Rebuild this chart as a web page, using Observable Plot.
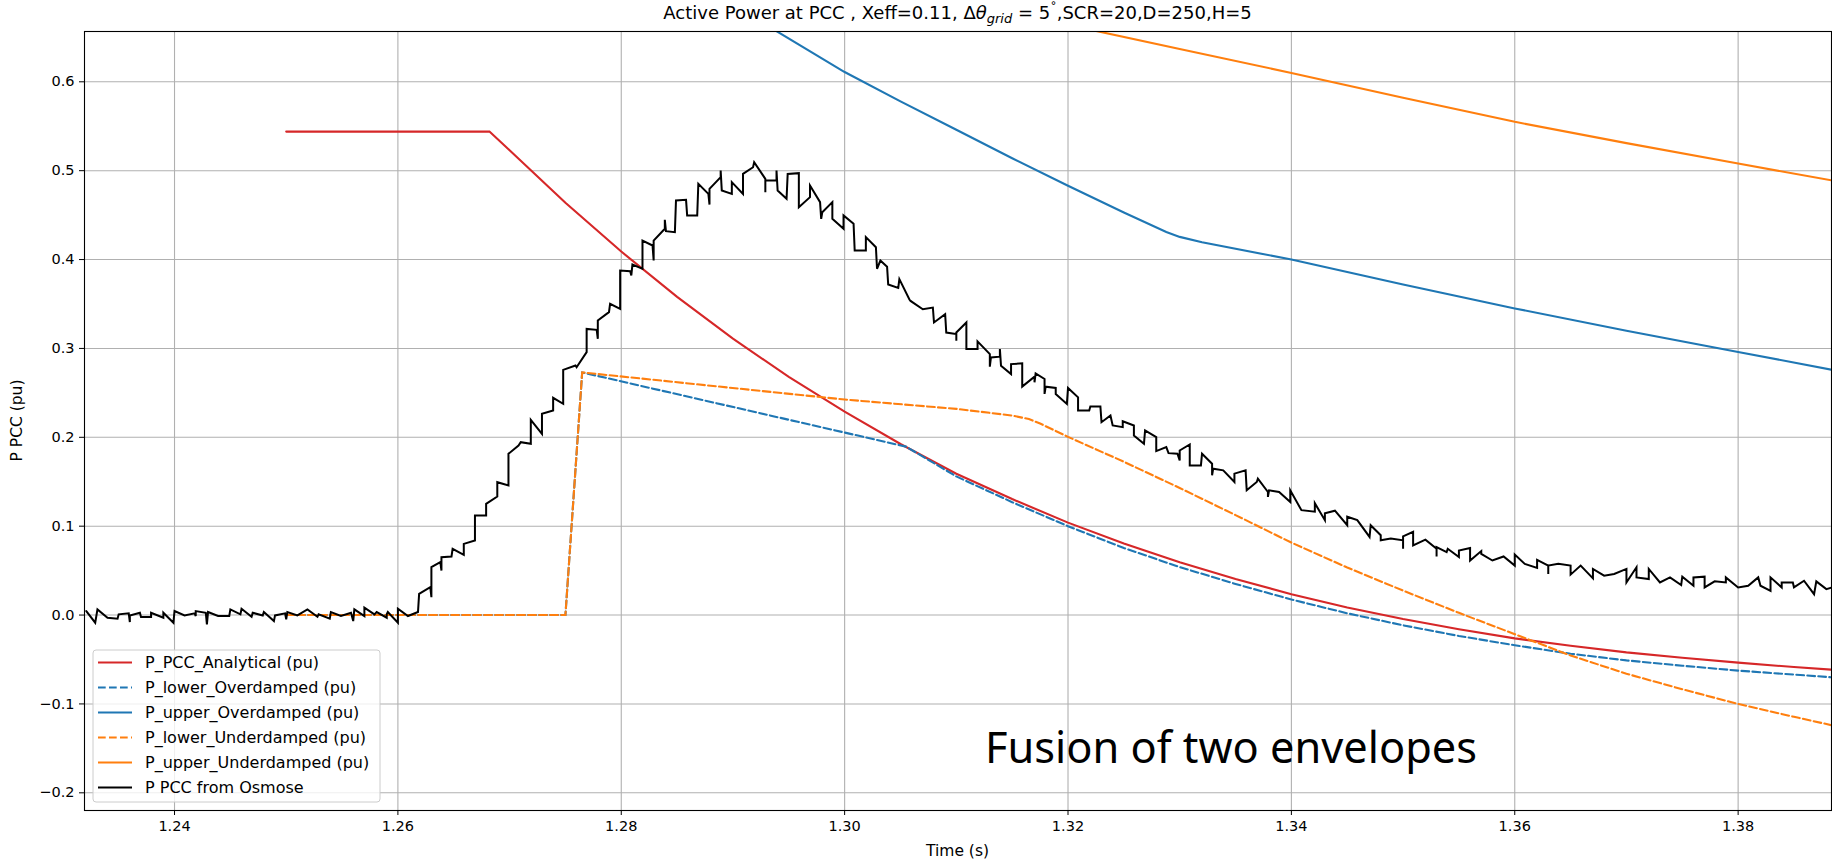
<!DOCTYPE html>
<html>
<head>
<meta charset="utf-8">
<script src="https://cdn.jsdelivr.net/npm/d3@7"></script>
<script src="https://cdn.jsdelivr.net/npm/@observablehq/plot@0.6"></script>
<style>
  html, body { margin: 0; padding: 0; background: #fff; overflow: hidden; }
  #chart { width: 1832px; height: 865px; }
</style>
</head>
<body>
<div id="chart"></div>
<script>
// ---------- data ----------
const xTicks = [1.24, 1.26, 1.28, 1.30, 1.32, 1.34, 1.36, 1.38];
const yTicks = [-0.2, -0.1, 0.0, 0.1, 0.2, 0.3, 0.4, 0.5, 0.6];
const xDomain = [1.23194, 1.38836];
const yDomain = [-0.2199, 0.6566];

const titleParts = ["Active Power at PCC , Xeff=0.11, Δ", "θ", "grid", " = 5", "˚", ",SCR=20,D=250,H=5"];
const xLabel = "Time (s)";
const yLabel = "P PCC (pu)";
const annotation = "Fusion of two envelopes";

const pAnalytical = [
  [1.25,0.544],[1.2682,0.544],[1.270,0.523],[1.275,0.464],[1.280,0.409],[1.285,0.358],[1.290,0.311],
  [1.295,0.268],[1.300,0.229],[1.305,0.1925],[1.310,0.159],[1.315,0.1305],[1.320,0.104],[1.325,0.0805],
  [1.330,0.0595],[1.335,0.0405],[1.340,0.0235],[1.345,0.0085],[1.350,-0.0045],[1.355,-0.016],[1.360,-0.0262],
  [1.365,-0.0345],[1.370,-0.042],[1.375,-0.048],[1.380,-0.0535],[1.385,-0.0585],[1.3884,-0.0615]
];
const pLowerOver = [
  [1.25,0],[1.275,0],[1.2765,0.273],[1.3055,0.1895],[1.310,0.156],[1.315,0.127],[1.320,0.100],[1.325,0.0755],
  [1.330,0.054],[1.335,0.035],[1.340,0.0175],[1.345,0.002],[1.350,-0.0115],[1.355,-0.0235],[1.360,-0.034],
  [1.365,-0.0435],[1.370,-0.051],[1.375,-0.057],[1.380,-0.0625],[1.385,-0.067],[1.3884,-0.070]
];
const pUpperOver = [
  [1.2935,0.66],[1.300,0.611],[1.305,0.578],[1.310,0.546],[1.315,0.514],[1.320,0.483],[1.325,0.453],
  [1.3288,0.431],[1.3300,0.4255],[1.3320,0.4195],[1.340,0.400],[1.350,0.372],[1.360,0.345],[1.370,0.320],
  [1.380,0.296],[1.3884,0.276]
];
const pLowerUnder = [
  [1.25,0],[1.275,0],[1.2765,0.273],[1.300,0.2425],[1.310,0.232],[1.315,0.2245],[1.3165,0.2205],[1.3175,0.2155],
  [1.320,0.2005],[1.325,0.1725],[1.330,0.1430],[1.335,0.1125],[1.340,0.0815],[1.345,0.0535],[1.350,0.0275],
  [1.355,0.0025],[1.360,-0.0215],[1.365,-0.0455],[1.370,-0.066],[1.375,-0.0835],[1.380,-0.100],[1.385,-0.1145],[1.3884,-0.124]
];
const pUpperUnder = [
  [1.320,0.664],[1.330,0.637],[1.340,0.610],[1.350,0.582],[1.360,0.555],[1.370,0.531],[1.380,0.508],[1.3884,0.489]
];
const pOsmose = [
  [1.2321,0.0045],[1.2329,-0.0086],[1.2331,0.0064],[1.2340,-0.0030],[1.2349,-0.0041],[1.2350,0.0008],[1.2359,0.0019],
  [1.2360,-0.0079],[1.2360,-0.0004],[1.2369,0.0026],[1.2370,-0.0023],[1.2379,-0.0023],[1.2379,0.0026],[1.2390,-0.0030],
  [1.2390,0.0026],[1.2399,-0.0086],[1.2400,0.0045],[1.2409,-0.0004],[1.2418,0.0019],[1.2419,-0.0011],[1.2419,0.0045],
  [1.2428,0.0026],[1.2429,-0.0105],[1.2430,0.0034],[1.2439,-0.0011],[1.2449,-0.0011],[1.2450,0.0064],[1.2459,0.0008],
  [1.2460,0.0071],[1.2469,-0.0019],[1.2470,0.0026],[1.2479,-0.0004],[1.2480,0.0034],[1.2489,-0.0068],[1.2490,-0.0004],
  [1.2499,0.0019],[1.2500,-0.0049],[1.2501,0.0034],[1.2510,-0.0004],[1.2519,0.0064],[1.2528,-0.0019],[1.2529,0.0008],
  [1.2539,-0.0041],[1.2540,0.0034],[1.2549,-0.0011],[1.2558,0.0026],[1.2560,-0.0068],[1.2561,0.0064],[1.2570,-0.0011],
  [1.2570,0.0083],[1.2579,0.0008],[1.2581,0.0034],[1.2590,-0.0030],[1.2590,0.0008],[1.2591,0.0034],[1.2600,-0.0086],
  [1.2600,0.0071],[1.2609,-0.0011],[1.2618,0.0034],
  [1.2619,0.0239],[1.2629,0.0314],[1.2630,0.0201],[1.2630,0.0539],[1.2638,0.0595],[1.2639,0.0501],[1.2639,0.0651],
  [1.2648,0.0659],[1.2649,0.0745],[1.2659,0.0678],[1.2659,0.0801],[1.2669,0.0839],[1.2669,0.1120],[1.2679,0.1120],
  [1.2679,0.1251],[1.2689,0.1334],[1.2689,0.1495],[1.2699,0.1458],[1.2699,0.1814],[1.2708,0.1908],[1.2710,0.1945],
  [1.2719,0.1927],[1.2719,0.2196],[1.2729,0.2039],[1.2729,0.2264],[1.2739,0.2302],[1.2739,0.2444],[1.2748,0.2377],
  [1.2748,0.2759],[1.2759,0.2808],[1.2760,0.2789],[1.2769,0.2958],[1.2769,0.3220],[1.2778,0.3209],[1.2779,0.3108],
  [1.2779,0.3314],[1.2789,0.3408],[1.2790,0.3502],[1.2799,0.3446],[1.2799,0.3877],[1.2808,0.3869],[1.2809,0.3821],
  [1.2810,0.3944],[1.2819,0.3896],[1.2819,0.4214],[1.2828,0.4158],[1.2829,0.3989],[1.2829,0.4214],[1.2839,0.4346],
  [1.2839,0.4447],[1.2840,0.4319],[1.2848,0.4308],[1.2849,0.4664],[1.2858,0.4672],[1.2859,0.4496],[1.2868,0.4496],
  [1.2869,0.4852],[1.2878,0.4739],[1.2879,0.4619],[1.2879,0.4796],[1.2889,0.4927],[1.2889,0.5002],[1.2890,0.4777],
  [1.2899,0.4739],[1.2899,0.4871],[1.2909,0.4739],[1.2909,0.4964],[1.2918,0.5039],[1.2919,0.5096],[1.2929,0.4908],
  [1.2929,0.4758],[1.2929,0.4889],[1.2939,0.4889],[1.2939,0.5002],[1.2940,0.4777],[1.2948,0.4683],[1.2949,0.4964],
  [1.2959,0.4972],[1.2959,0.4589],[1.2969,0.4702],[1.2969,0.4833],[1.2978,0.4646],[1.2979,0.4458],[1.2980,0.4533],
  [1.2989,0.4646],[1.2989,0.4458],[1.2999,0.4346],[1.2999,0.4496],[1.3008,0.4402],[1.3009,0.4102],[1.3019,0.4102],
  [1.3019,0.4252],[1.3028,0.4139],[1.3029,0.3896],[1.3032,0.3989],
  [1.3038,0.392],[1.3039,0.372],[1.3048,0.368],[1.3049,0.378],[1.3058,0.355],
  [1.3059,0.3535],[1.3070,0.3441],[1.3079,0.3460],[1.3080,0.3292],[1.3090,0.3385],[1.3091,0.3179],[1.3100,0.3161],
  [1.3100,0.3086],[1.3100,0.3179],[1.3109,0.3292],[1.3109,0.2993],[1.3119,0.2993],[1.3119,0.3079],[1.3130,0.2936],
  [1.3130,0.2794],[1.3131,0.2899],[1.3139,0.2907],[1.3139,0.2993],[1.3140,0.2806],[1.3149,0.2712],[1.3149,0.2824],
  [1.3159,0.2832],[1.3159,0.2570],[1.3170,0.2682],[1.3170,0.2619],[1.3171,0.2720],[1.3179,0.2656],[1.3179,0.2488],
  [1.3180,0.2570],[1.3189,0.2555],[1.3189,0.2488],[1.3199,0.2376],[1.3200,0.2555],[1.3209,0.2450],[1.3209,0.2301],
  [1.3219,0.2301],[1.3220,0.2346],[1.3229,0.2346],[1.3230,0.2170],[1.3238,0.2245],[1.3240,0.2133],[1.3249,0.2114],
  [1.3249,0.2181],[1.3259,0.2133],[1.3259,0.2021],[1.3268,0.1927],[1.3269,0.2077],[1.3279,0.2002],[1.3279,0.1845],
  [1.3288,0.1890],[1.3290,0.1822],[1.3298,0.1815],[1.3300,0.1740],[1.3300,0.1852],[1.3309,0.1920],[1.3309,0.1684],
  [1.3319,0.1684],[1.3320,0.1815],[1.3329,0.1703],[1.3329,0.1572],[1.3330,0.1647],[1.3339,0.1628],[1.3349,0.1497],
  [1.3349,0.1591],[1.3359,0.1628],[1.3360,0.1404],[1.3369,0.1497],[1.3370,0.1535],[1.3379,0.1385],[1.3379,0.1329],
  [1.3380,0.1404],[1.3389,0.1385],[1.3399,0.1273],[1.3399,0.1404],[1.3409,0.1180],
  [1.3421,0.1163],[1.3421,0.1258],[1.3430,0.1068],[1.3430,0.1144],[1.3439,0.1174],[1.3450,0.1011],[1.3450,0.1106],
  [1.3459,0.1068],[1.3470,0.0879],[1.3471,0.1011],[1.3480,0.0898],[1.3480,0.0841],[1.3489,0.0860],[1.3500,0.0841],
  [1.3500,0.0746],[1.3500,0.0886],[1.3509,0.0936],[1.3509,0.0784],[1.3520,0.0848],[1.3530,0.0746],[1.3530,0.0659],
  [1.3530,0.0765],[1.3539,0.0708],[1.3540,0.0746],[1.3550,0.0652],[1.3550,0.0727],[1.3560,0.0754],[1.3560,0.0614],
  [1.3570,0.0720],[1.3570,0.0689],[1.3580,0.0614],[1.3590,0.0659],[1.3600,0.0557],[1.3600,0.0682],[1.3609,0.0576],
  [1.3620,0.0530],[1.3620,0.0621],[1.3630,0.0557],[1.3630,0.0462],[1.3630,0.0557],[1.3639,0.0576],[1.3650,0.0557],
  [1.3650,0.0455],[1.3659,0.0557],[1.3670,0.0413],[1.3670,0.0519],[1.3680,0.0443],[1.3689,0.0462],[1.3700,0.0519],
  [1.3700,0.0367],[1.3709,0.0538],[1.3709,0.0424],[1.3720,0.0405],[1.3720,0.0519],[1.3730,0.0367],[1.3739,0.0424],
  [1.3749,0.0337],[1.3750,0.0432],[1.3760,0.0330],[1.3760,0.0424],[1.3770,0.0432],[1.3770,0.0311],[1.3779,0.0379],
  [1.3789,0.0367],[1.3789,0.0424],[1.3800,0.0311],[1.3809,0.0330],[1.3818,0.0424],[1.3820,0.0330],[1.3829,0.0273],
  [1.3829,0.0424],[1.3839,0.0311],[1.3839,0.0367],[1.3849,0.0367],[1.3850,0.0311],[1.3859,0.0386],[1.3868,0.0235],
  [1.3870,0.0379],[1.3879,0.0292],[1.3884,0.0311]
];

const seriesNames = ["P_PCC_Analytical (pu)", "P_lower_Overdamped (pu)", "P_upper_Overdamped (pu)",
                     "P_lower_Underdamped (pu)", "P_upper_Underdamped (pu)", "P PCC from Osmose"];
const seriesColors = ["#d62728", "#1f77b4", "#1f77b4", "#ff7f0e", "#ff7f0e", "#000000"];
const seriesDashed = [false, true, false, true, false, false];
const seriesData = [pAnalytical, pLowerOver, pUpperOver, pLowerUnder, pUpperUnder, pOsmose];

// ---------- layout ----------
const W = 1832, H = 865;
const M = {top: 31, right: 1, bottom: 55, left: 84};
const FONT = "'DejaVu Sans', sans-serif";
const DASH = "7.7,3.3";
const LW = 2.1;

const lineMarks = seriesData.map((data, i) => Plot.line(data, {
  x: d => d[0], y: d => d[1],
  stroke: seriesColors[i],
  strokeWidth: i === 5 ? 2.0 : LW,
  strokeDasharray: seriesDashed[i] ? DASH : null,
  strokeLinejoin: "miter",
  strokeMiterlimit: 4,
  clip: true
}));

const chart = Plot.plot({
  width: W, height: H,
  marginTop: M.top, marginRight: M.right, marginBottom: M.bottom, marginLeft: M.left,
  style: {fontFamily: FONT, fontSize: "14.5px", background: "white", color: "black", overflow: "visible"},
  x: {domain: xDomain, ticks: xTicks, tickFormat: d3.format(".2f"), tickSize: 5, tickPadding: 5, label: null},
  y: {domain: yDomain, ticks: yTicks, tickFormat: d3.format(".1f"), tickSize: 5, tickPadding: 5, label: null},
  marks: [
    Plot.ruleX(xTicks, {stroke: "#b0b0b0", strokeWidth: 1.1}),
    Plot.ruleY(yTicks, {stroke: "#b0b0b0", strokeWidth: 1.1}),
    ...lineMarks,
    Plot.frame({stroke: "black", strokeWidth: 1.1})
  ]
});
document.getElementById("chart").appendChild(chart);

const svg = d3.select(chart);
const plotCx = (M.left + (W - M.right)) / 2;
const plotCy = (M.top + (H - M.bottom)) / 2;

// title with mathtext-like parts
const title = svg.append("text")
  .attr("x", plotCx).attr("y", 19)
  .attr("text-anchor", "middle")
  .style("font-family", FONT).style("font-size", "18px").attr("fill", "black");
title.append("tspan").text(titleParts[0]);
title.append("tspan").attr("font-style", "italic").text(titleParts[1]);
title.append("tspan").attr("font-style", "italic").attr("font-size", "13px").attr("dy", 4).text(titleParts[2]);
title.append("tspan").attr("dy", -4).text(titleParts[3]);
title.append("tspan").attr("font-size", "13px").attr("dy", -6).text(titleParts[4]);
title.append("tspan").attr("dy", 6).text(titleParts[5]);

// axis labels
svg.append("text")
  .attr("x", plotCx).attr("y", 856)
  .attr("text-anchor", "middle")
  .style("font-family", FONT).style("font-size", "15.5px").attr("fill", "black")
  .text(xLabel);
svg.append("text")
  .attr("transform", `translate(22,${plotCy}) rotate(-90)`)
  .attr("text-anchor", "middle")
  .style("font-family", FONT).style("font-size", "15.5px").attr("fill", "black")
  .text(yLabel);

// legend (inside the axes, lower left)
const lg = svg.append("g").attr("transform", "translate(93,650)").attr("text-anchor", "start");
lg.append("rect")
  .attr("x", 0).attr("y", 0).attr("width", 287).attr("height", 152)
  .attr("rx", 3).attr("ry", 3)
  .attr("fill", "white").attr("fill-opacity", 0.8)
  .attr("stroke", "#cccccc").attr("stroke-width", 1);
seriesNames.forEach((name, i) => {
  const cy = 12.5 + i * 25;
  lg.append("line")
    .attr("x1", 5).attr("x2", 39).attr("y1", cy).attr("y2", cy)
    .attr("stroke", seriesColors[i]).attr("stroke-width", LW)
    .attr("stroke-dasharray", seriesDashed[i] ? DASH : null);
  lg.append("text")
    .attr("x", 52).attr("y", cy).attr("dy", "0.35em")
    .attr("text-anchor", "start")
    .style("font-family", FONT).style("font-size", "16px").attr("fill", "black")
    .text(name);
});

// annotation
svg.append("text")
  .attr("x", 985).attr("y", 763)
  .attr("text-anchor", "start")
  .style("font-family", "'Noto Sans', 'Open Sans', sans-serif").style("font-size", "44px")
  .attr("fill", "black")
  .attr("textLength", 492).attr("lengthAdjust", "spacingAndGlyphs")
  .text(annotation);
</script>
</body>
</html>
